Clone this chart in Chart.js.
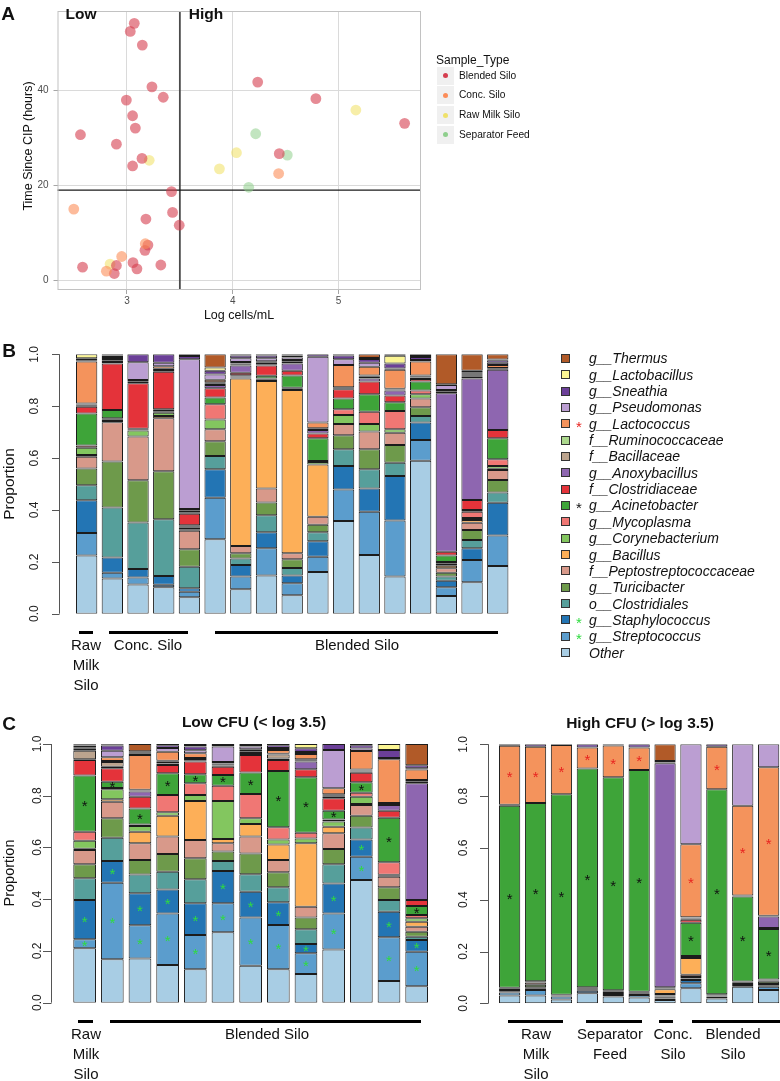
<!DOCTYPE html>
<html>
<head>
<meta charset="utf-8">
<title>Sample type composition</title>
<script src="https://cdn.jsdelivr.net/npm/chart.js@4.4.1/dist/chart.umd.min.js"></script>
<style>
  html, body { margin: 0; padding: 0; background: #fff; }
  #page { position: relative; width: 780px; height: 1081px; overflow: hidden;
          font-family: "Liberation Sans", Arial, Helvetica, sans-serif; color: #111; }
  #page canvas { position: absolute; left: 0; top: 0; }
  .c { position: absolute; transform: translate(-50%, -50%); white-space: nowrap; line-height: 1; }
  .l { position: absolute; transform: translateY(-50%); white-space: nowrap; line-height: 1; }
  .rot { transform: translate(-50%, -50%) rotate(-90deg); }
  .b { font-weight: bold; }
  .hbar { position: absolute; height: 3px; background: #000; }
  .grp { position: absolute; transform: translateX(-50%); text-align: center; font-size: 15px;
         line-height: 20px; white-space: nowrap; }
  .key { position: absolute; width: 17px; height: 18px; background: #f0f0f0; }
  .key i { position: absolute; left: 6px; top: 6.5px; width: 5px; height: 5px; border-radius: 50%; }
  .sw { position: absolute; width: 7px; height: 7px; border: 1px solid #333; }
</style>
</head>
<body>
<div id="page">
  <canvas id="scatterA" width="780" height="1081"></canvas>
  <canvas id="barsB" width="780" height="1081"></canvas>
  <canvas id="barsCLow" width="780" height="1081"></canvas>
  <canvas id="barsCHigh" width="800" height="1081"></canvas>

  <!-- panel A text -->
  <div class="c b" style="left:8px;top:13px;font-size:19px">A</div>
  <div class="c b" style="left:81px;top:14px;font-size:15.5px">Low</div>
  <div class="c b" style="left:206px;top:14px;font-size:15.5px">High</div>
  <div class="c rot" style="left:28px;top:146px;font-size:12.5px">Time Since CIP (hours)</div>
  <div class="c" style="left:239px;top:315px;font-size:12.5px">Log cells/mL</div>
  <div class="l" style="left:436px;top:60px;font-size:12px">Sample_Type</div>

  <!-- panel B text -->
  <div class="c b" style="left:9px;top:350px;font-size:19px">B</div>
  <div class="c rot" style="left:9px;top:484px;font-size:15.5px">Proportion</div>
  <div class="hbar" style="left:79px;width:14px;top:631px"></div>
  <div class="hbar" style="left:109px;width:79px;top:631px"></div>
  <div class="hbar" style="left:215px;width:283px;top:631px"></div>
  <div class="grp" style="left:86px;top:635px">Raw<br>Milk<br>Silo</div>
  <div class="grp" style="left:148px;top:635px">Conc. Silo</div>
  <div class="grp" style="left:357px;top:635px">Blended Silo</div>

  <!-- panel C text -->
  <div class="c b" style="left:9px;top:723px;font-size:19px">C</div>
  <div class="c b" style="left:254px;top:722px;font-size:15.5px">Low CFU (&lt; log 3.5)</div>
  <div class="c b" style="left:640px;top:723px;font-size:15.5px">High CFU (&gt; log 3.5)</div>
  <div class="c rot" style="left:9px;top:873px;font-size:14.5px">Proportion</div>
  <div class="hbar" style="left:78px;width:15px;top:1020px"></div>
  <div class="hbar" style="left:110px;width:311px;top:1020px"></div>
  <div class="grp" style="left:86px;top:1024px">Raw<br>Milk<br>Silo</div>
  <div class="grp" style="left:267px;top:1024px">Blended Silo</div>
  <div class="hbar" style="left:508px;width:55px;top:1020px"></div>
  <div class="hbar" style="left:586px;width:56px;top:1020px"></div>
  <div class="hbar" style="left:659px;width:14px;top:1020px"></div>
  <div class="hbar" style="left:692px;width:88px;top:1020px"></div>
  <div class="grp" style="left:536px;top:1024px">Raw<br>Milk<br>Silo</div>
  <div class="grp" style="left:610px;top:1024px">Separator<br>Feed</div>
  <div class="grp" style="left:673px;top:1024px">Conc.<br>Silo</div>
  <div class="grp" style="left:733px;top:1024px">Blended<br>Silo</div>
</div>

<script>
// ---- panel A: log cells vs time since CIP ----
const sampleTypes = ['Blended Silo', 'Conc. Silo', 'Raw Milk Silo', 'Separator Feed'];
const blendedSilo = [[3.069,54.2],[3.031,52.5],[3.145,49.6],[3.236,40.8],[3.343,38.6],[2.994,38.0],
  [3.053,34.7],[3.079,32.1],[2.56,30.7],[2.90,28.7],[3.142,25.7],[3.053,24.1],[3.421,18.7],[3.431,14.3],
  [3.179,12.9],[3.494,11.6],[3.198,7.4],[3.17,6.3],[2.58,2.75],[2.90,3.1],[2.88,1.4],[3.057,3.7],
  [3.094,2.4],[3.32,3.2],[4.236,41.8],[4.786,38.3],[4.44,26.7],[5.625,33.1]];
const concSilo = [[2.497,15.0],[2.95,5.0],[2.805,1.9],[3.173,7.7],[4.434,22.5]];
const rawMilkSilo = [[3.21,25.3],[3.874,23.5],[4.035,26.9],[5.164,35.9],[2.84,3.4]];
const separatorFeed = [[4.217,30.9],[4.516,26.4],[4.151,19.6]];
const cellCut = 3.5;   // log cells/mL split between Low and High
const timeCut = 19;    // hours

// ---- panels B and C: taxa, bottom of stack first ----
const taxa = ['Other','g__Streptococcus','g__Staphylococcus','o__Clostridiales','g__Turicibacter',
  'f__Peptostreptococcaceae','g__Bacillus','g__Corynebacterium','g__Mycoplasma','g__Acinetobacter',
  'f__Clostridiaceae','g__Anoxybacillus','f__Bacillaceae','f__Ruminococcaceae','g__Lactococcus',
  'g__Pseudomonas','g__Sneathia','g__Lactobacillus','g__Thermus'];
const taxaColors = ['#a8cde4','#5b9dcd','#2375b4','#569f9b','#6e9a4b','#d8998a','#fdaf58','#83c65f',
  '#f07774','#3ea439','#e4333a','#8e66b0','#bca48e','#acd88d','#f4935c','#bb9ed2','#6b3f98',
  '#fbf593','#b15a28'];
const starColors = { 'g__Lactococcus': '#e8231f', 'g__Acinetobacter': '#111111',
  'g__Staphylococcus': '#2fdc3f', 'g__Streptococcus': '#2fdc3f' };
const propTicks = [0, 0.2, 0.4, 0.6, 0.8, 1];

// each row is one sample, values follow the taxa order
const labelsB = ['Raw Milk Silo','Conc. Silo','Conc. Silo','Conc. Silo','Conc. Silo',
  'Blended Silo','Blended Silo','Blended Silo','Blended Silo','Blended Silo','Blended Silo',
  'Blended Silo','Blended Silo','Blended Silo','Blended Silo','Blended Silo','Blended Silo'];
const barsB = [
  [.224,.087,.126,.058,.065,.045,.007,.028,.008,.124,.026,.004,.004,.004,.162,.005,.008,.015,0],
  [.136,.022,.059,.192,.178,.151,.005,.005,.005,.032,.18,.005,.004,.003,.005,.008,.005,.005,0],
  [.113,.027,.032,.18,.162,.169,0,.023,.003,.004,.175,.006,.007,0,0,.068,.031,0,0],
  [.102,.01,.033,.219,.185,.204,.009,.013,.005,.008,.145,.006,.005,0,.01,.013,.033,0,0],
  [.063,.022,.013,.083,.067,.072,.006,.005,.004,.006,.044,.006,.006,.003,.004,.577,.012,.007,0],
  [.287,.16,.11,.051,.057,.046,0,.038,.058,.026,.036,.013,.006,.004,.01,.02,.015,.012,.051],
  [.094,.049,.045,.025,.02,.028,.646,.004,.003,.005,.01,.028,.005,.003,.005,.015,.01,.005,0],
  [.147,.105,.062,.066,.049,.054,.414,.005,.005,.01,.04,.005,.004,.003,.004,.012,.01,.005,0],
  [.071,.046,.03,.029,.034,.023,.629,.005,.004,.047,.019,.028,.005,.003,.005,.01,.007,.005,0],
  [.161,.059,.059,.035,.029,.031,.201,.01,.004,.087,.019,.013,.004,.003,.022,.254,.009,0,0],
  [.357,.122,.09,.065,.054,.043,0,.035,.022,.042,.035,.004,.004,0,.086,.022,.014,.005,0],
  [.226,.167,.09,.074,.077,.068,0,.029,.048,.067,.049,.012,.006,.005,.034,.015,.015,.004,.014],
  [.143,.216,.172,.051,.068,.048,0,.013,.07,.034,.026,.019,.004,.003,.073,.005,.02,.029,.006],
  [.59,.08,.067,.025,.034,.034,0,.016,.014,.035,.01,.006,.004,.003,.054,.006,.012,.003,.007],
  [.068,.034,.025,.016,.015,.017,.01,.008,.006,.025,.015,.611,.005,.003,.004,.02,.003,0,.115],
  [.121,.086,.045,.032,.039,.028,.01,.008,.024,.007,.038,.469,.006,.004,.004,.004,.006,.006,.063],
  [.184,.117,.127,.039,.048,.039,.005,.01,.026,.081,.032,.232,.004,.003,.012,.008,.01,.003,.02]
];

const labelsCLow = ['Raw Milk Silo','Blended Silo','Blended Silo','Blended Silo','Blended Silo',
  'Blended Silo','Blended Silo','Blended Silo','Blended Silo','Blended Silo','Blended Silo',
  'Blended Silo','Blended Silo'];
const barsCLow = [
  [.21,.035,.152,.084,.054,.055,.005,.031,.035,.217,.06,.003,.033,.003,.005,.005,.007,.003,.003],
  [.168,.296,.084,.09,.075,.064,.009,.039,.005,.024,.052,.006,.018,.004,.015,.025,.02,.003,.003],
  [.171,.128,.124,.073,.056,.064,.045,.022,.006,.062,.045,.02,.004,.003,.134,.005,.006,.004,.028],
  [.146,.199,.093,.068,.069,.067,.081,.013,.067,.084,.032,.006,.006,.004,.035,.015,.01,.005,0],
  [.129,.133,.122,.093,.081,.071,.151,.023,.045,.035,.049,.005,.005,.004,.018,.012,.014,.006,.004],
  [.272,.112,.125,.039,.036,.032,.017,.147,.059,.041,.032,.005,.005,.003,.005,.06,.006,.004,0],
  [.143,.186,.1,.068,.08,.065,.049,.022,.094,.083,.067,.008,.005,.003,.007,.01,.006,.004,0],
  [.129,.171,.088,.058,.058,.048,.06,.019,.047,.218,.042,.006,.015,.003,.015,.008,.01,.005,0],
  [.111,.08,.036,.057,.045,.042,.245,.019,.022,.214,.031,.03,.005,.004,.02,.008,.015,.016,0],
  [.206,.139,.116,.074,.059,.061,.025,.02,.008,.034,.048,.006,.006,.004,.023,.148,.023,0,0],
  [.474,.09,.067,.046,.046,.041,.004,.028,.016,.04,.037,.005,.004,.003,.072,.01,.012,.005,0],
  [.084,.169,.099,.045,.049,.041,.004,.004,.048,.172,.027,.022,.004,.004,.169,.005,.031,.023,0],
  [.064,.133,.045,.013,.019,.02,.019,.013,.013,.035,.023,.451,.008,.005,.04,.005,.012,0,.082]
];

const labelsCHigh = ['Raw Milk Silo','Raw Milk Silo','Raw Milk Silo','Separator Feed',
  'Separator Feed','Separator Feed','Conc. Silo','Blended Silo','Blended Silo','Blended Silo',
  'Blended Silo'];
const barsCHigh = [
  [.03,.012,.005,.004,.004,.003,0,0,.002,.703,.004,0,0,0,.227,0,.006,0,0],
  [.03,.021,.005,.006,.01,.008,0,0,.005,.688,0,0,0,0,.218,0,.009,0,0],
  [.015,.011,.004,.003,0,0,0,0,0,.774,0,0,0,0,.19,0,.003,0,0],
  [.039,.009,.004,.004,.006,0,0,0,0,.845,0,0,0,0,.081,0,.012,0,0],
  [.026,.006,.004,.004,.005,.005,0,0,0,.823,0,0,0,0,.122,0,.005,0,0],
  [.022,.01,.005,.004,.004,0,0,0,0,.856,0,0,0,0,.087,0,.012,0,0],
  [.013,.006,.004,.003,.004,.006,.018,.003,.002,.003,0,.865,.003,0,0,0,.006,0,.064],
  [.058,.019,.013,.006,.006,.008,.065,.004,.004,.128,.012,.004,.003,.002,.282,.386,0,0,0],
  [.019,.007,.004,.005,0,0,0,0,0,.791,0,0,0,0,.165,0,.009,0,0],
  [.064,.007,.004,.004,.005,0,0,0,0,.328,.004,0,0,0,.347,.237,0,0,0],
  [.051,.013,.006,.005,.008,.005,0,0,.004,.195,.004,.044,.003,0,.573,.089,0,0,0]
];

const FONT = '"Liberation Sans", Arial, Helvetica, sans-serif';

// base R style left axis drawn from the chart's own y scale
const baseAxis = {
  id: 'baseAxis',
  afterDraw(chart, args, opts) {
    const ctx = chart.ctx, ys = chart.scales.y;
    ctx.save();
    ctx.strokeStyle = '#555';
    ctx.lineWidth = 1;
    ctx.beginPath();
    ctx.moveTo(opts.x + 0.5, ys.getPixelForValue(0));
    ctx.lineTo(opts.x + 0.5, ys.getPixelForValue(1));
    propTicks.forEach(v => {
      const py = Math.round(ys.getPixelForValue(v)) + 0.5;
      ctx.moveTo(opts.x + 0.5, py);
      ctx.lineTo(opts.x - opts.tick, py);
    });
    ctx.stroke();
    ctx.fillStyle = '#222';
    ctx.font = '12px ' + FONT;
    ctx.textAlign = 'center';
    ctx.textBaseline = 'middle';
    propTicks.forEach(v => {
      ctx.save();
      ctx.translate(opts.labelX, ys.getPixelForValue(v));
      ctx.rotate(-Math.PI / 2);
      ctx.fillText(v.toFixed(1), 0, 0);
      ctx.restore();
    });
    ctx.restore();
  }
};

// asterisks on the flagged taxa
const stars = {
  id: 'stars',
  afterDatasetsDraw(chart, args, opts) {
    if (!opts.taxa || !opts.taxa.length) return;
    const ctx = chart.ctx;
    ctx.save();
    ctx.font = '15px ' + FONT;
    ctx.textAlign = 'center';
    ctx.textBaseline = 'middle';
    opts.taxa.forEach(name => {
      const di = taxa.indexOf(name);
      const vals = chart.data.datasets[di].data;
      chart.getDatasetMeta(di).data.forEach((bar, j) => {
        if (vals[j] < 0.02) return;
        const p = bar.getProps(['x', 'y', 'base'], true);
        ctx.fillStyle = starColors[name];
        ctx.fillText('*', p.x, (p.y + p.base) / 2 + 3);
      });
    });
    ctx.restore();
  }
};

function stackData(labels, bars, barPct) {
  return {
    labels: labels,
    datasets: taxa.map((name, i) => ({
      label: name,
      data: bars.map(b => b[i]),
      backgroundColor: taxaColors[i],
      borderColor: '#1c1c1c',
      borderWidth: 1,
      borderSkipped: false,
      barPercentage: barPct,
      categoryPercentage: 1
    }))
  };
}

function barChart(id, labels, bars, barPct, area, axis, starred) {
  const cv = document.getElementById(id);
  return new Chart(cv, {
    type: 'bar',
    data: stackData(labels, bars, barPct),
    options: {
      responsive: false,
      animation: false,
      events: [],
      layout: { padding: { left: area[0], top: area[1], right: cv.width - area[2], bottom: cv.height - area[3] } },
      scales: {
        x: { stacked: true, display: false },
        y: { stacked: true, display: false, min: 0, max: 1 }
      },
      plugins: { legend: { display: false }, tooltip: { enabled: false }, baseAxis: axis, stars: { taxa: starred } }
    },
    plugins: [baseAxis, stars]
  });
}

barChart('barsB', labelsB, barsB, 0.83, [73.8, 354.3, 510.6, 613.7], { x: 59, tick: 7, labelX: 35 }, []);
barChart('barsCLow', labelsCLow, barsCLow, 0.82, [70.8, 744, 430.5, 1002.7], { x: 51, tick: 8, labelX: 38 },
  ['g__Acinetobacter', 'g__Staphylococcus', 'g__Streptococcus']);
barChart('barsCHigh', labelsCHigh, barsCHigh, 0.82, [496.7, 744.3, 781.6, 1003.3], { x: 488, tick: 8, labelX: 463.5 },
  ['g__Acinetobacter', 'g__Lactococcus']);

// ---- scatter A ----
const cutLines = {
  id: 'cutLines',
  beforeDatasetsDraw(chart, args, opts) {
    const { ctx, chartArea: a, scales } = chart;
    const px = scales.x.getPixelForValue(opts.x);
    const py = scales.y.getPixelForValue(opts.y);
    ctx.save();
    ctx.strokeStyle = '#4b4b4b';
    ctx.lineWidth = 1.8;
    ctx.beginPath(); ctx.moveTo(px, a.top); ctx.lineTo(px, a.bottom); ctx.stroke();
    ctx.strokeStyle = '#1a1a1a';
    ctx.lineWidth = 1.3;
    ctx.beginPath(); ctx.moveTo(a.left, py); ctx.lineTo(a.right, py); ctx.stroke();
    ctx.restore();
  },
  afterDraw(chart) {
    const { ctx, chartArea: a } = chart;
    ctx.save();
    ctx.strokeStyle = '#c2c2c2';
    ctx.lineWidth = 1;
    ctx.strokeRect(a.left + 0.5, a.top + 0.5, a.width - 1, a.height - 1);
    ctx.restore();
  }
};

const pointFill = { 'Blended Silo': 'rgba(213,62,79,0.6)', 'Conc. Silo': 'rgba(252,141,89,0.6)',
  'Raw Milk Silo': 'rgba(240,224,96,0.55)', 'Separator Feed': 'rgba(143,207,141,0.55)' };
const keyFill = { 'Blended Silo': '#d53e4f', 'Conc. Silo': '#fc8d59',
  'Raw Milk Silo': '#efe16a', 'Separator Feed': '#8fcf8d' };

function pts(name, arr) {
  return { label: name, data: arr.map(p => ({ x: p[0], y: p[1] })), backgroundColor: pointFill[name],
           borderWidth: 0, pointRadius: 5.4 };
}

const axisGrid = { color: '#dadada', lineWidth: 1, tickColor: '#a6a6a6', tickLength: 4 };
new Chart(document.getElementById('scatterA'), {
  type: 'scatter',
  data: { datasets: [
    pts('Conc. Silo', concSilo),
    pts('Blended Silo', blendedSilo),
    pts('Raw Milk Silo', rawMilkSilo),
    pts('Separator Feed', separatorFeed)
  ] },
  options: {
    responsive: false,
    animation: false,
    events: [],
    layout: { padding: { left: 0, top: 5, right: 780 - 421, bottom: 1081 - 290 - 20 } },
    scales: {
      x: { type: 'linear', position: 'bottom', min: 2.343, max: 5.78,
           afterFit(s) { s.height = 20; },
           ticks: { stepSize: 1, includeBounds: false, autoSkip: false, maxRotation: 0,
                    color: '#4d4d4d', font: { family: FONT, size: 10 }, padding: 1 },
           grid: axisGrid, border: { display: false } },
      y: { type: 'linear', position: 'left', min: -2.07, max: 56.8,
           afterFit(s) { s.width = 57.5; },
           ticks: { stepSize: 20, includeBounds: false, color: '#4d4d4d', font: { family: FONT, size: 10 }, padding: 5 },
           grid: axisGrid, border: { display: false } }
    },
    plugins: { legend: { display: false }, tooltip: { enabled: false }, cutLines: { x: cellCut, y: timeCut } }
  },
  plugins: [cutLines]
});

// ---- HTML legends ----
const page = document.getElementById('page');
sampleTypes.forEach((name, k) => {
  const cy = 75.7 + k * 19.7;
  const key = document.createElement('div');
  key.className = 'key';
  key.style.left = '437px';
  key.style.top = (cy - 9) + 'px';
  const dot = document.createElement('i');
  dot.style.background = keyFill[name];
  key.appendChild(dot);
  page.appendChild(key);
  const t = document.createElement('div');
  t.className = 'l';
  t.style.left = '459px';
  t.style.top = cy + 'px';
  t.style.fontSize = '10.2px';
  t.textContent = name;
  page.appendChild(t);
});

taxa.slice().reverse().forEach((name, k) => {
  const i = taxa.length - 1 - k;
  const cy = 358.3 + k * 16.35;
  const sw = document.createElement('div');
  sw.className = 'sw';
  sw.style.left = '561px';
  sw.style.top = (cy - 4.5) + 'px';
  sw.style.background = taxaColors[i];
  page.appendChild(sw);
  if (starColors[name]) {
    const s = document.createElement('div');
    s.className = 'c';
    s.style.left = '579px';
    s.style.top = (cy + 2) + 'px';
    s.style.fontSize = '15px';
    s.style.color = starColors[name];
    s.textContent = '*';
    page.appendChild(s);
  }
  const t = document.createElement('div');
  t.className = 'l';
  t.style.left = '589px';
  t.style.top = cy + 'px';
  t.style.fontSize = '14px';
  t.style.fontStyle = 'italic';
  t.textContent = name;
  page.appendChild(t);
});
</script>
</body>
</html>
